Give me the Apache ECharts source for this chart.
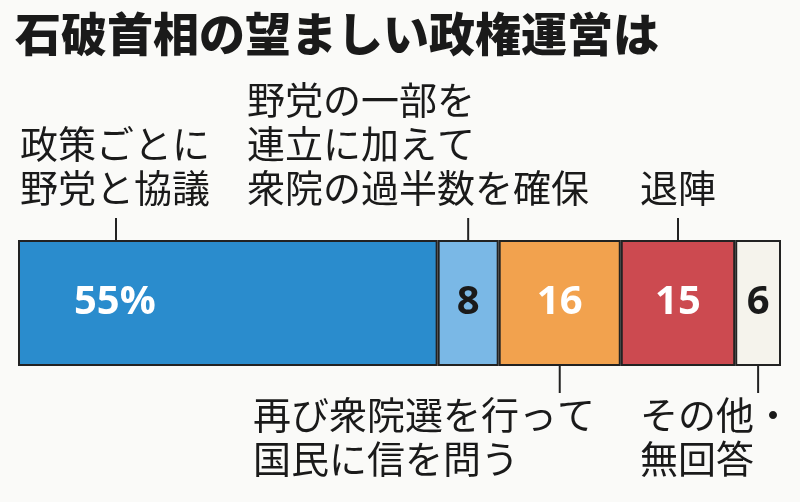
<!DOCTYPE html>
<html>
<head>
<meta charset="utf-8">
<script src="https://cdn.jsdelivr.net/npm/echarts@6/dist/echarts.min.js"></script>
<style>
html, body { margin: 0; padding: 0; background: #fafaf8; }
#main { width: 800px; height: 502px; }
</style>
</head>
<body>
<div id="main"></div>
<script>
// 回答の割合(%)
var categories = ['政策ごとに野党と協議', '野党の一部を連立に加えて衆院の過半数を確保', '再び衆院選を行って国民に信を問う', '退陣', 'その他・無回答'];
var values = [55, 8, 16, 15, 6];
var valueLabels = ['55%', '8', '16', '15', '6'];
var colors = ['#2a8ccd', '#7ab8e6', '#f2a24e', '#cc4a50', '#f5f3ec'];
var labelColors = ['#fff', '#1a1a1a', '#fff', '#fff', '#1a1a1a'];
// 上下の注記
var noteLines = [
    ['政策ごとに', '野党と協議'],
    ['野党の一部を', '連立に加えて', '衆院の過半数を確保'],
    ['再び衆院選を行って', '国民に信を問う'],
    ['退陣'],
    ['その他・', '無回答']
];
var noteSide = ['top', 'top', 'bottom', 'top', 'bottom'];

var FONT = '"Noto Sans CJK JP", sans-serif';
var gridTop = 240, gridHeight = 126;

var myChart = echarts.init(document.getElementById('main'));

var series = values.map(function (v, i) {
    return {
        name: categories[i],
        type: 'bar',
        stack: 'total',
        barWidth: '100%',
        data: [v],
        itemStyle: {
            color: colors[i],
            borderColor: '#222',
            borderWidth: 2
        },
        label: {
            show: true,
            position: i === 0 ? 'insideLeft' : 'inside',
            distance: 56,
            formatter: valueLabels[i],
            color: labelColors[i],
            fontSize: 40,
            fontWeight: 'bold',
            fontFamily: '"Open Sans", sans-serif'
        },
        silent: true
    };
});

var option = {
    backgroundColor: '#fafaf8',
    animation: false,
    title: {
        text: '石破首相の望ましい政権運営は',
        left: 10,
        top: 6,
        textStyle: {
            fontFamily: FONT,
            fontSize: 46,
            fontWeight: 900,
            color: '#1a1a1a'
        }
    },
    grid: {
        left: 18,
        width: 763,
        top: gridTop,
        height: gridHeight
    },
    xAxis: {
        type: 'value',
        min: 0,
        max: 100,
        show: false
    },
    yAxis: {
        type: 'category',
        data: ['回答'],
        show: false
    },
    series: series
};
myChart.setOption(option);

// 注記の引き出し線と文字
var noteLeft = [20, 247, 253, 640, 640];
var lineH = 44;
var elements = [];
var start = 0;
values.forEach(function (v, i) {
    var x;
    if (i === 0) {
        x = myChart.convertToPixel({ gridIndex: 0 }, [start, 0])[0] + 98;
    } else {
        x = myChart.convertToPixel({ gridIndex: 0 }, [start + v / 2, 0])[0];
    }
    start += v;
    var n = noteLines[i].length;
    var y1, y2, textTop;
    if (noteSide[i] === 'top') {
        y1 = gridTop - 22;
        y2 = gridTop;
        textTop = 210 - n * lineH;
    } else {
        y1 = gridTop + gridHeight;
        y2 = gridTop + gridHeight + 27;
        textTop = 393;
    }
    elements.push({
        type: 'line',
        shape: { x1: x, y1: y1, x2: x, y2: y2 },
        style: { stroke: '#222', lineWidth: 2 },
        silent: true
    });
    elements.push({
        type: 'text',
        x: noteLeft[i],
        y: textTop,
        style: {
            text: noteLines[i].join('\n'),
            font: '38px ' + FONT,
            lineHeight: lineH,
            fill: '#1a1a1a',
            textAlign: 'left',
            textVerticalAlign: 'top'
        },
        silent: true
    });
});
myChart.setOption({ graphic: { elements: elements } });
</script>
</body>
</html>
